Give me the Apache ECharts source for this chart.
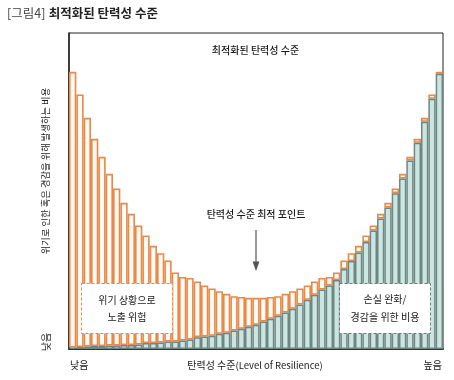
<!DOCTYPE html>
<html><head><meta charset="utf-8">
<script src="https://cdn.jsdelivr.net/npm/echarts@6/dist/echarts.min.js"></script>
<style>html,body{margin:0;padding:0;background:#fff}#c{width:454px;height:380px}</style>
</head><body><div id="c"></div>
<script>
const categories = ['1','2','3','4','5','6','7','8','9','10','11','12','13','14','15','16','17','18','19','20','21','22','23','24','25','26','27','28','29','30','31','32','33','34','35','36','37','38','39','40','41','42','43','44','45','46','47','48','49','50','51'];
// cost of mitigation (teal, bottom of stack)
const mitigationCost = [1.5,2,2.5,3,3,3.5,3.5,4,4,4.5,6,6,6.5,7.5,7.5,8.5,9.5,11.8,12.5,13.2,15.2,16.2,18.5,20.2,22.2,24.2,27.5,30.2,33.2,36.5,40.2,44.5,49.2,54.2,59.5,63.5,69,80,88,96.5,107,118.5,130.5,141.5,155.8,170.5,188.5,206.2,227.2,250.2,275.2];
// exposure risk (orange outline, stacked on top)
const exposureRisk = [275.7,252.5,228.7,207.2,189.2,171.7,157,142.2,131.2,119,107.5,97.2,89.3,81,69,63.5,61.5,55.7,51,47.3,42.6,39,34.3,31.8,29,27,23.7,21.8,19.6,18.7,17.6,16,14.3,13.3,11.5,8.5,7.5,8.5,7.8,6.7,6.5,5,4.7,4.7,4.7,4.7,3.7,4,4,4.3,2];
const figureTag = '[그림4]';
const figureTitle = '최적화된 탄력성 수준';
const innerTitle = '최적화된 탄력성 수준';
const optimumLabel = '탄력성 수준 최적 포인트';
const riskBoxLines = ['위기 상황으로', '노출 위험'];
const costBoxLines = ['손실 완화/', '경감을 위한 비용'];
const yAxisTitle = '위기로 인한 혹은 경감을 위해 발생하는 비용';
const xAxisTitleKo = '탄력성 수준';
const xAxisTitleEn = '(Level of Resilience)';
const lowLabel = '낮음';
const highLabel = '높음';

const FONT = '"Noto Sans CJK KR", "Noto Sans", sans-serif';
const chart = echarts.init(document.getElementById('c'), null, {renderer: 'canvas'});

function txt(x, y, text, size, opts) {
  opts = opts || {};
  return {
    type: 'text', x: x, y: y, rotation: opts.rotation || 0, z: 200,
    style: {
      text: text, fill: opts.color || '#1a1a1a',
      font: (opts.weight || 'normal') + ' ' + size + 'px ' + FONT,
      fontSize: size, fontFamily: FONT, fontWeight: opts.weight || 'normal',
      align: opts.align || 'center', textAlign: opts.align || 'center',
      verticalAlign: 'middle', textVerticalAlign: 'middle'
    }
  };
}

const option = {
  animation: false,
  backgroundColor: '#fff',
  grid: {left: 69, top: 33, right: 11, bottom: 31, show: true, borderColor: '#222', borderWidth: 1, outerBoundsMode: 'none'},
  xAxis: {type: 'category', data: categories,
    axisLine: {show: true, lineStyle: {color: '#333', width: 2}},
    axisTick: {show: false}, axisLabel: {show: false}, splitLine: {show: false}},
  yAxis: {type: 'value', min: 0, max: 316,
    axisLine: {show: true, lineStyle: {color: '#222', width: 1.5}},
    axisTick: {show: false}, axisLabel: {show: false}, splitLine: {show: false}},
  series: [
    {type: 'bar', stack: 'total', data: mitigationCost, barCategoryGap: '0%', barGap: '0%', z: 3,
     itemStyle: {color: '#c9e6e1', borderColor: '#718584', borderWidth: 1.5}},
    {type: 'bar', stack: 'total', data: exposureRisk, barCategoryGap: '0%', barGap: '0%', z: 2,
     itemStyle: {color: '#fffaf2', borderColor: '#e8894c', borderWidth: 1.6}}
  ],
  graphic: [
    {type: 'text', x: 7, y: 13, z: 200, style: {
      text: '{a|' + figureTag + '} {b|' + figureTitle + '}',
      verticalAlign: 'middle', textVerticalAlign: 'middle', align: 'left', textAlign: 'left',
      rich: {
        a: {fontSize: 12.5, fontFamily: FONT, fontWeight: 'normal', fill: '#444', color: '#444'},
        b: {fontSize: 12.5, fontFamily: FONT, fontWeight: 'bold', fill: '#222', color: '#222'}
      }}},
    txt(255.5, 50, innerTitle, 10, {weight: 500}),
    txt(256, 214, optimumLabel, 10, {weight: 500}),
    {type: 'line', z: 200, shape: {x1: 256, y1: 230, x2: 256, y2: 263}, style: {stroke: '#555', lineWidth: 1.2}},
    {type: 'polygon', z: 200, shape: {points: [[252.5, 261.5], [259.5, 261.5], [256, 271]]}, style: {fill: '#555'}},
    {type: 'rect', z: 150, shape: {x: 81.5, y: 283.5, width: 91, height: 50},
     style: {fill: '#fff', stroke: '#e8894c', lineWidth: 1, lineDash: [3, 2]}},
    txt(127, 300, riskBoxLines[0], 10),
    txt(127, 317, riskBoxLines[1], 10),
    {type: 'rect', z: 150, shape: {x: 339.5, y: 283.5, width: 91, height: 50},
     style: {fill: '#fff', stroke: '#777', lineWidth: 1, lineDash: [3, 2]}},
    txt(385, 299, costBoxLines[0], 10),
    txt(385, 317, costBoxLines[1], 10),
    txt(45, 171, yAxisTitle, 9.3, {rotation: Math.PI / 2}),
    txt(46, 342, lowLabel, 10, {rotation: Math.PI / 2}),
    txt(70, 365, lowLabel, 10, {align: 'left'}),
    {type: 'text', x: 255, y: 365, z: 200, style: {
      text: '{k|' + xAxisTitleKo + '}{e|' + xAxisTitleEn + '}',
      align: 'center', textAlign: 'center', verticalAlign: 'middle', textVerticalAlign: 'middle',
      rich: {
        k: {fontSize: 10, fontFamily: FONT, fill: '#1a1a1a', color: '#1a1a1a'},
        e: {fontSize: 9.5, fontFamily: FONT, fill: '#1a1a1a', color: '#1a1a1a'}
      }}},
    txt(442, 365, highLabel, 10, {align: 'right'})
  ]
};
chart.setOption(option);
</script>
</body></html>
